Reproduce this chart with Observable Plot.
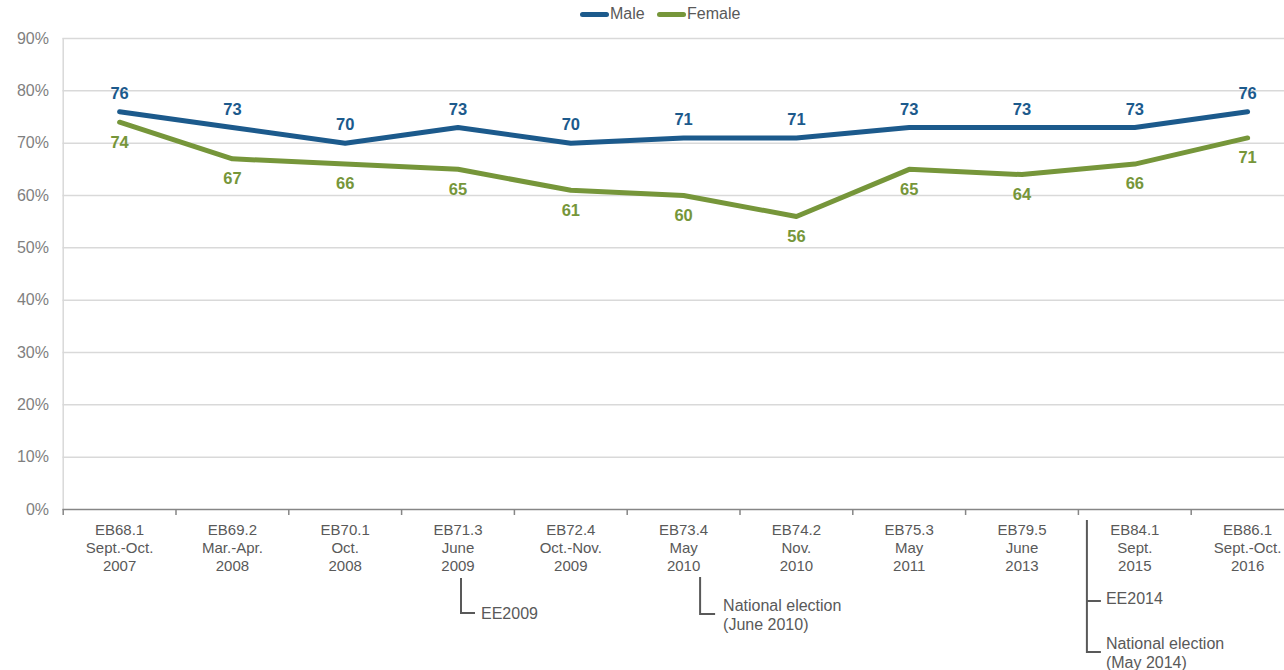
<!DOCTYPE html>
<html>
<head>
<meta charset="utf-8">
<script src="https://cdn.jsdelivr.net/npm/d3@7"></script>
<script src="https://cdn.jsdelivr.net/npm/@observablehq/plot@0.6"></script>
<style>
  html, body { margin: 0; padding: 0; background: #fff; }
  body { width: 1284px; height: 670px; overflow: hidden; font-family: "Liberation Sans", Arial, sans-serif; }
  #legend { position: relative; height: 28px; }
  .item { position: absolute; top: 4px; display: flex; align-items: center; font-size: 16px; color: #595959; height: 20px; }
  .sw { width: 29px; height: 5px; border-radius: 3px; margin-right: 1px; }
</style>
</head>
<body>
<div id="legend">
  <div class="item" style="left:580px"><span class="sw" style="background:#1c5a8c"></span>Male</div>
  <div class="item" style="left:657px"><span class="sw" style="background:#76963a"></span>Female</div>
</div>
<div id="chart"></div>
<script>
const categories = [
  "EB68.1\nSept.-Oct.\n2007", "EB69.2\nMar.-Apr.\n2008", "EB70.1\nOct.\n2008",
  "EB71.3\nJune\n2009", "EB72.4\nOct.-Nov.\n2009", "EB73.4\nMay\n2010",
  "EB74.2\nNov.\n2010", "EB75.3\nMay\n2011", "EB79.5\nJune\n2013",
  "EB84.1\nSept.\n2015", "EB86.1\nSept.-Oct.\n2016"
];
const male = [76, 73, 70, 73, 70, 71, 71, 73, 73, 73, 76];
const female = [74, 67, 66, 65, 61, 60, 56, 65, 64, 66, 71];
const yTicks = [0, 10, 20, 30, 40, 50, 60, 70, 80, 90];
const annotations = [
  {index: 3, lines: ["EE2009"]},
  {index: 5, lines: ["National election", "(June 2010)"]},
  {index: 9, lines: ["EE2014", "National election", "(May 2014)"]}
];

const MALE = "#1c5a8c", FEMALE = "#76963a";
const maleData = categories.map((c, i) => ({i, v: male[i]}));
const femaleData = categories.map((c, i) => ({i, v: female[i]}));
const boundaries = d3.range(-0.5, categories.length, 1);

const H = 642, MT = 10, MB = 161;
const chart = Plot.plot({
  width: 1284, height: H,
  marginTop: MT, marginBottom: MB, marginLeft: 62.5, marginRight: 0,
  style: {fontFamily: "Liberation Sans, Arial, sans-serif", background: "white"},
  x: {type: "linear", domain: [-0.5, categories.length - 0.5], range: [62.7, 1303.5]},
  y: {domain: [0, 90], label: null},
  marks: [
    Plot.ruleY(yTicks.filter(d => d > 0), {stroke: "#d9d9d9", strokeWidth: 1.5}),
    Plot.ruleX([-0.5], {y1: 0, y2: 90, stroke: "#d9d9d9", strokeWidth: 1.5}),
    Plot.axisY({ticks: yTicks, tickFormat: d => d + "%", tickSize: 0, tickPadding: 14, fontSize: 16, fill: "#7f7f7f", label: null}),
    Plot.ruleY([0], {stroke: "#868686", strokeWidth: 1.5}),
    Plot.axisX({ticks: boundaries, tickFormat: () => "", tickSize: 6, stroke: "#868686", strokeWidth: 1.5, label: null}),
    Plot.axisX({ticks: d3.range(categories.length), tickFormat: i => categories[i], tickSize: 0, tickPadding: 12, fontSize: 15, fill: "#595959", lineHeight: 1.22, label: null}),
    Plot.line(femaleData, {x: "i", y: "v", stroke: FEMALE, strokeWidth: 5, strokeLinecap: "round", strokeLinejoin: "round"}),
    Plot.line(maleData, {x: "i", y: "v", stroke: MALE, strokeWidth: 5, strokeLinecap: "round", strokeLinejoin: "round"}),
    Plot.text(maleData, {x: "i", y: "v", text: "v", dy: -18, fill: MALE, fontSize: 16.5, fontWeight: "bold"}),
    Plot.text(femaleData, {x: "i", y: "v", text: "v", dy: 20, fill: FEMALE, fontSize: 16.5, fontWeight: "bold"})
  ]
});
document.getElementById("chart").appendChild(chart);

// Annotation brackets below the axis, positioned from the chart's x scale
const sx = chart.scale("x");
const xs = d3.scaleLinear(sx.domain, sx.range);
const fb = H - MB; // frame bottom
const svg = d3.select(chart);
const g = svg.append("g").attr("fill", "none").attr("stroke", "#595959").attr("stroke-width", 2);
const t = svg.append("g").attr("fill", "#595959").attr("font-size", 16).attr("text-anchor", "start")
  .attr("font-family", "Liberation Sans, Arial, sans-serif");

// EE2009 (index 3)
{
  const a = annotations[0];
  const x0 = xs(a.index) + 3.5;
  g.append("path").attr("d", `M${x0},${fb + 69}V${fb + 104}H${x0 + 14}`);
  t.append("text").attr("x", x0 + 20).attr("y", fb + 104).attr("dy", "0.35em").text(a.lines[0]);
}
// National election June 2010 (index 5)
{
  const a = annotations[1];
  const x0 = xs(a.index) + 17;
  g.append("path").attr("d", `M${x0},${fb + 68}V${fb + 105}H${x0 + 15}`);
  a.lines.forEach((s, k) => t.append("text").attr("x", x0 + 23).attr("y", fb + 96 + k * 19).attr("dy", "0.35em").text(s));
}
// EE2014 + National election May 2014 (index 9)
{
  const a = annotations[2];
  const x0 = xs(a.index - 0.5) + 9;
  g.append("path").attr("d", `M${x0},${fb + 11}V${fb + 143}H${x0 + 14}M${x0},${fb + 92}H${x0 + 14}`);
  t.append("text").attr("x", x0 + 19).attr("y", fb + 89).attr("dy", "0.35em").text(a.lines[0]);
  t.append("text").attr("x", x0 + 19).attr("y", fb + 134).attr("dy", "0.35em").text(a.lines[1]);
  t.append("text").attr("x", x0 + 19).attr("y", fb + 153).attr("dy", "0.35em").text(a.lines[2]);
}
</script>
</body>
</html>
